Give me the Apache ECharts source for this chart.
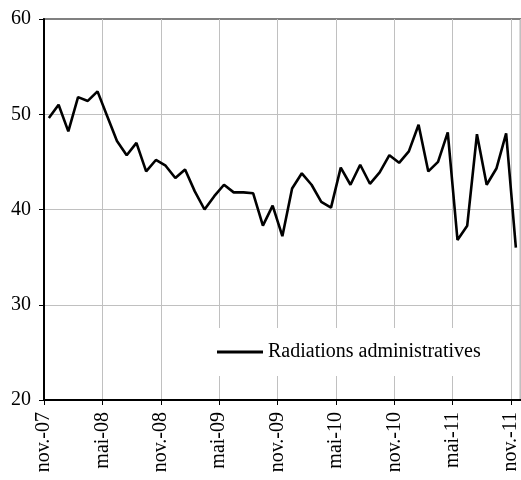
<!DOCTYPE html>
<html>
<head>
<meta charset="utf-8">
<script src="https://cdn.jsdelivr.net/npm/echarts@6/dist/echarts.min.js"></script>
<style>html,body{margin:0;padding:0;background:#fff}#c{width:521px;height:480px}</style>
</head>
<body>
<div id="c"></div>
<script>
const categories = ['nov.-07','déc.-07','janv.-08','févr.-08','mars-08','avr.-08','mai-08','juin-08','juil.-08','août-08','sept.-08','oct.-08',
  'nov.-08','déc.-08','janv.-09','févr.-09','mars-09','avr.-09','mai-09','juin-09','juil.-09','août-09','sept.-09','oct.-09',
  'nov.-09','déc.-09','janv.-10','févr.-10','mars-10','avr.-10','mai-10','juin-10','juil.-10','août-10','sept.-10','oct.-10',
  'nov.-10','déc.-10','janv.-11','févr.-11','mars-11','avr.-11','mai-11','juin-11','juil.-11','août-11','sept.-11','oct.-11',
  'nov.-11'];
const seriesName = 'Radiations administratives';
const values = [49.6,51.0,48.2,51.8,51.4,52.4,49.8,47.2,45.7,47.0,44.0,45.2,
  44.6,43.3,44.2,41.9,40.0,41.4,42.6,41.8,41.8,41.7,38.3,40.4,
  37.2,42.2,43.8,42.6,40.8,40.2,44.4,42.6,44.7,42.7,43.9,45.7,
  44.9,46.1,48.9,44.0,45.0,48.1,36.8,38.3,47.9,42.6,44.3,48.0,
  36.0];
const labelEvery = 6;

const font = 'Liberation Serif';
const chart = echarts.init(document.getElementById('c'), null, {renderer: 'canvas'});
chart.setOption({
  animation: false,
  backgroundColor: '#fff',
  grid: {left: 44, top: 19, width: 479, height: 381, show: true, borderColor: '#808080', borderWidth: 2, backgroundColor: 'transparent'},
  legend: {
    show: true,
    orient: 'horizontal',
    left: 215, top: 328,
    backgroundColor: '#fff',
    padding: [14, 4, 14, 2],
    itemWidth: 46, itemHeight: 3, itemGap: 5,
    textStyle: {fontFamily: font, fontSize: 20, color: '#000'},
    data: [{name: seriesName, icon: 'rect', itemStyle: {color: '#000'}}]
  },
  xAxis: {
    type: 'value', min: 0, max: categories.length, interval: labelEvery,
    axisLine: {show: true, onZero: false, lineStyle: {color: '#000', width: 2}},
    axisTick: {show: true, length: 5, lineStyle: {color: '#000', width: 1}},
    axisLabel: {
      rotate: 90, margin: 12, fontFamily: font, fontSize: 20, color: '#000',
      showMaxLabel: false,
      formatter: v => (v % labelEvery === 0 && categories[v]) ? categories[v] : ''
    },
    splitLine: {show: true, showMinLine: false, lineStyle: {color: '#c0c0c0', width: 1}}
  },
  yAxis: {
    type: 'value', min: 20, max: 60, interval: 10,
    axisLine: {show: true, lineStyle: {color: '#000', width: 2}},
    axisTick: {show: true, length: 5, lineStyle: {color: '#000', width: 1}},
    axisLabel: {margin: 13, fontFamily: font, fontSize: 20, color: '#000'},
    splitLine: {show: true, showMinLine: false, showMaxLine: false, lineStyle: {color: '#c0c0c0', width: 1}}
  },
  series: [{
    name: seriesName, type: 'line', symbol: 'none',
    lineStyle: {color: '#000', width: 2.6},
    itemStyle: {color: '#000'},
    data: values.map((v, i) => [i + 0.5, v])
  }]
});
</script>
</body>
</html>
